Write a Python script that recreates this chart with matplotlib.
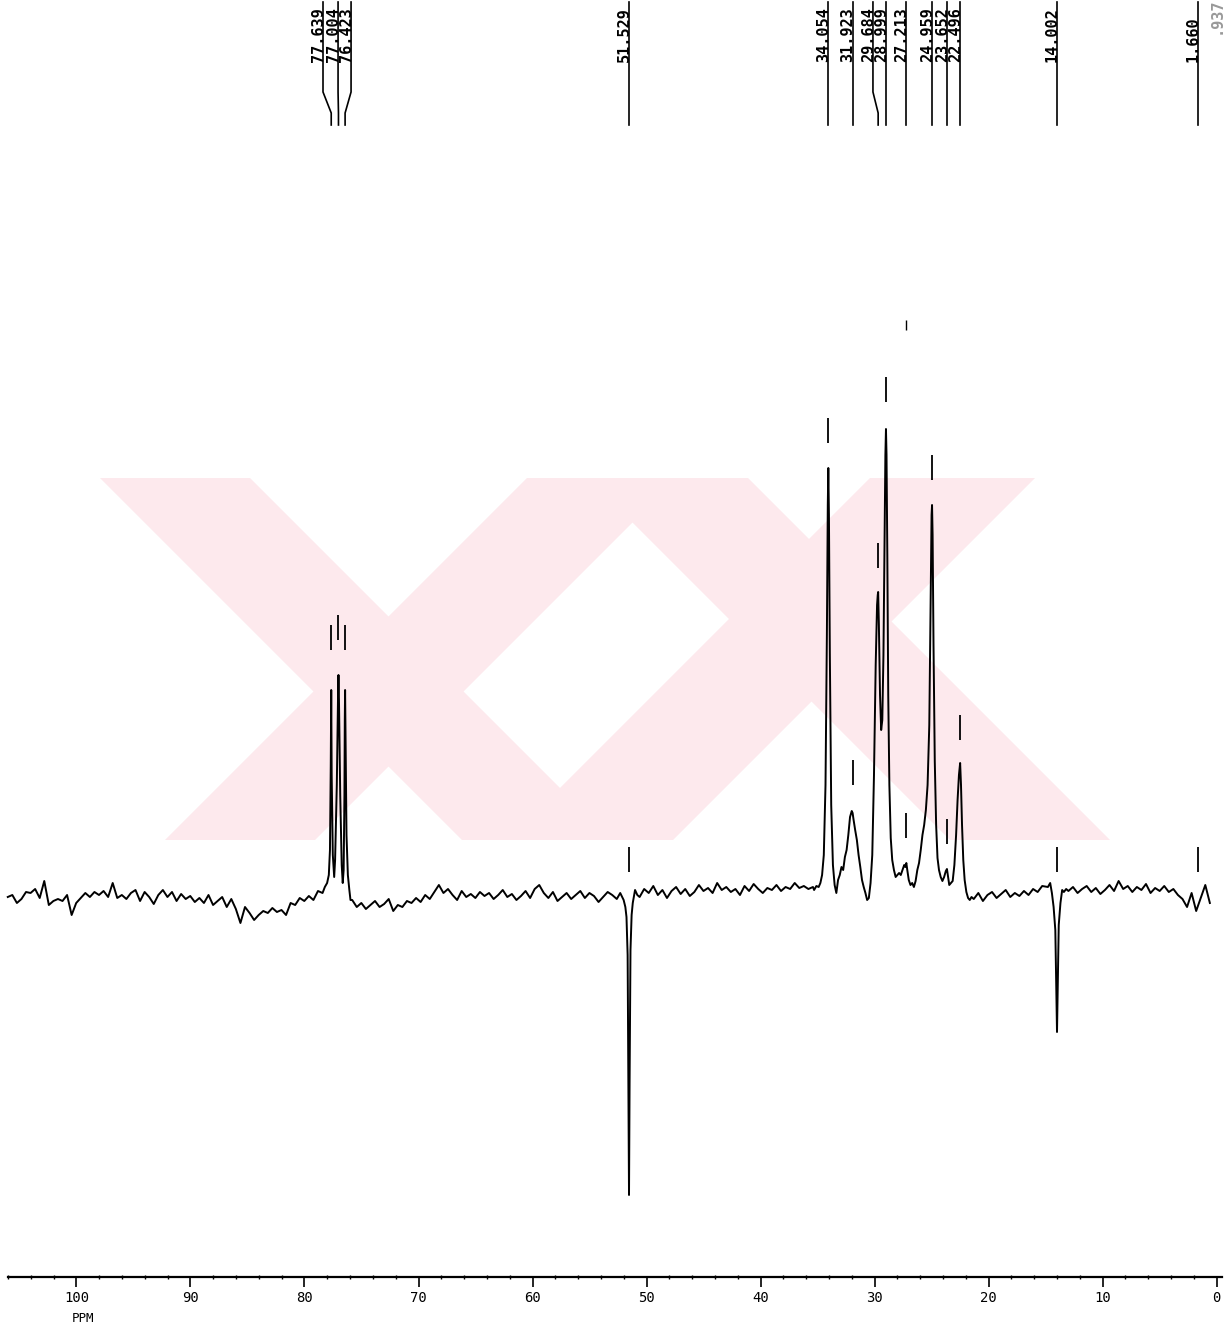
import numpy as np
import matplotlib
matplotlib.use("Agg")
from matplotlib import pyplot as plt
from matplotlib.patches import Polygon

plt.rcParams['font.family'] = ['DejaVu Sans Mono', 'DejaVu Sans']

# ---- trace: ppm vs intensity (baseline = 0) ----
STEP = 0.4  # ppm between baseline readings

base1_start = 106.0
base1 = [-2, 0, -8, -4, 3, 2, 6, -3, 14, -10,
         -6, -4, -6, 0, -20, -8, -3, 2, -2, 3,
         0, 4, -2, 12, -3, 0, -4, 2, 5, -6,
         3, -2, -9, 0, 5, -2, 3, -6, 1, -4,
         -1, -7, -3, -8, 0, -10, -6, -2, -12, -4,
         -14, -28, -12, -18, -25, -20, -16, -18, -13, -17,
         -15, -20, -8, -10, -3, -6, -1, -5, 4, 2]

# CDCl3 triplet
triplet = [(78.2, 8), (78.0, 12), (77.85, 20), (77.75, 45), (77.68, 130),
           (77.639, 205), (77.60, 120), (77.5, 40), (77.38, 18), (77.30, 35),
           (77.15, 110), (77.04, 200), (77.004, 220), (76.96, 195), (76.85, 100),
           (76.72, 30), (76.63, 12), (76.55, 25), (76.48, 100), (76.45, 175),
           (76.423, 205), (76.39, 165), (76.30, 60), (76.18, 20), (76.05, 5),
           (75.95, -5)]

base2_start = 75.8
base2 = [-5, -12, -8, -14, -10, -6, -12, -9, -4, -16,
         -10, -12, -6, -8, -3, -7, 0, -4, 3, 10,
         2, 6, 0, -5, 4, -2, 1, -3, 3, -1,
         2, -4, 0, 5, -2, 1, -5, -1, 4, -3,
         6, 10, 2, -3, 3, -6, -2, 2, -4, 0,
         4, -3, 2, -1, -7, -2, 3, 0, -4]

neg51 = [(52.3, 2), (52.0, -5), (51.85, -12), (51.75, -22), (51.65, -60),
         (51.58, -190), (51.529, -300), (51.48, -190), (51.40, -55), (51.3, -20),
         (51.2, -8), (51.0, 5), (50.8, 0)]

base3_start = 50.6
base3 = [-2, 6, 2, 9, 0, 5, -3, 4, 8, 1,
         6, -1, 3, 10, 4, 7, 2, 12, 5, 8,
         3, 6, 0, 9, 4, 11, 6, 2, 7, 5,
         10, 4, 8, 6, 12, 7, 9, 6, 8]

aliph = [(35.3, 5), (35.1, 9), (34.9, 8), (34.75, 12), (34.6, 20), (34.45, 40),
         (34.30, 110), (34.18, 260), (34.10, 390), (34.054, 427), (34.00, 380),
         (33.92, 240), (33.80, 90), (33.65, 30), (33.50, 10), (33.35, 2),
         (33.2, 15), (33.05, 20), (32.9, 28), (32.75, 25), (32.6, 38), (32.45, 45),
         (32.3, 60), (32.15, 78), (32.0, 84), (31.923, 82), (31.85, 76), (31.7, 65),
         (31.55, 55), (31.4, 40), (31.25, 28), (31.1, 15), (30.95, 8), (30.8, 2),
         (30.65, -5), (30.5, -3), (30.35, 12), (30.2, 40), (30.05, 120), (29.90, 230),
         (29.78, 290), (29.72, 300), (29.684, 303), (29.62, 270), (29.52, 200),
         (29.42, 165), (29.32, 175), (29.22, 240), (29.12, 360), (29.05, 440),
         (28.999, 466), (28.95, 440), (28.88, 340), (28.80, 200), (28.70, 110),
         (28.58, 57), (28.45, 35), (28.3, 25), (28.15, 18), (28.0, 20), (27.85, 22),
         (27.7, 20), (27.55, 25), (27.4, 30), (27.30, 28), (27.213, 32), (27.13, 25),
         (27.0, 15), (26.85, 10), (26.7, 12), (26.55, 8), (26.4, 14), (26.25, 25),
         (26.1, 32), (25.95, 45), (25.8, 60), (25.65, 70), (25.5, 85), (25.35, 110),
         (25.2, 170), (25.08, 300), (25.0, 380), (24.959, 390), (24.91, 360),
         (24.83, 250), (24.72, 134), (24.6, 70), (24.48, 37), (24.35, 25), (24.2, 18),
         (24.05, 14), (23.9, 18), (23.75, 24), (23.652, 26), (23.55, 18), (23.45, 10),
         (23.3, 12), (23.15, 14), (23.0, 30), (22.85, 60), (22.72, 95), (22.6, 120),
         (22.496, 132), (22.42, 110), (22.33, 70), (22.22, 35), (22.1, 15),
         (21.95, 3), (21.8, -3), (21.65, -5), (21.5, -2)]

base4_start = 21.3
base4 = [-4, 2, -6, 0, 3, -3, 1, 5, -2, 2, -1, 4, 0, 6, 3, 9]

neg14 = [(14.8, 8), (14.6, 12), (14.45, 2), (14.3, -12), (14.15, -35),
         (14.05, -100), (14.002, -137), (13.95, -100), (13.85, -30), (13.7, -8),
         (13.55, 5), (13.4, 3), (13.2, 6)]

base5_start = 13.0
base5 = [4, 8, 2, 6, 9, 3, 7, 1, 5, 10,
         4, 14, 6, 9, 3, 8, 5, 11, 2, 7,
         4, 9, 3, 6, 0, -4, -12, 2, -16, -3,
         10, -8]

# ---- peak picking ----
peak_labels = ["77.639", "77.004", "76.423", "51.529", "34.054", "31.923", "29.684",
               "28.999", "27.213", "24.959", "23.652", "22.496", "14.002", "1.660"]
peak_ppm = [77.639, 77.004, 76.423, 51.529, 34.054, 31.923, 29.684,
            28.999, 27.213, 24.959, 23.652, 22.496, 14.002, 1.660]
label_ppm = [78.36, 77.04, 75.90, 51.529, 34.054, 31.923, 30.14,
             28.999, 27.213, 24.959, 23.652, 22.496, 14.002, 1.660]
mark_low = [245, 255, 245, 23, 452, 110, 327, 493, 57, 415, 51, 155, 23, 23]
stray_mark = (27.213, 565)

# ---- layout of the scan (pixels) ----
W, H = 1226, 1327
X0_PX, PX_PER_PPM = 1216.7, 11.405
BASE_PY = 895

# watermark bands, pixel corners (top-left, top-right, bottom-right, bottom-left)
wm_bands = [[(100, 478), (250, 478), (612, 840), (462, 840)],
            [(527, 478), (677, 478), (315, 840), (165, 840)],
            [(588, 478), (748, 478), (1110, 840), (950, 840)],
            [(870, 478), (1035, 478), (673, 840), (508, 840)]]


def ppm_at(px):
    return (X0_PX - px) / PX_PER_PPM


def val_at(py):
    return BASE_PY - py


def stretch(start, vals):
    p = start - STEP * np.arange(len(vals))
    return np.column_stack([p, vals])


trace = np.vstack([stretch(base1_start, base1), np.array(triplet),
                   stretch(base2_start, base2), np.array(neg51),
                   stretch(base3_start, base3), np.array(aliph),
                   stretch(base4_start, base4), np.array(neg14),
                   stretch(base5_start, base5)])

fig = plt.figure(figsize=(W / 100, H / 100), dpi=100)

for band in wm_bands:
    pts = [(x / W, 1 - y / H) for x, y in band]
    fig.patches.append(Polygon(pts, closed=True, transform=fig.transFigure,
                               facecolor='#fde9ed', edgecolor='none', zorder=-5))

ax = fig.add_axes([0, 0, 1, 1])
ax.set_zorder(2)
ax.patch.set_visible(False)
ax.set_xlim(ppm_at(0), ppm_at(W))
ax.set_ylim(val_at(H), val_at(0))
ax.axis('off')

ax.plot(trace[:, 0], trace[:, 1], color='black', lw=1.4, zorder=3)

# peak pick ticks
ax.vlines(peak_ppm, mark_low, np.array(mark_low) + 25, color='black', lw=1.3)
ax.vlines(stray_mark[0], stray_mark[1], stray_mark[1] + 10, color='black', lw=1.0)

# labels with leader lines
for lab, pk, lp in zip(peak_labels, peak_ppm, label_ppm):
    ax.text(lp, val_at(62), lab, rotation=90, rotation_mode='anchor',
            ha='left', va='baseline', fontsize=11, fontweight='bold')
    ax.plot([lp, lp, pk, pk], [val_at(2), val_at(92), val_at(113), val_at(125)],
            color='black', lw=1.2)
ax.text(ppm_at(1221), val_at(34), ".937", rotation=90, rotation_mode='anchor',
        ha='left', va='baseline', fontsize=11, fontweight='bold', color='#999999')

# ppm scale
sax = fig.add_axes([8 / W, 1 - 1277 / H, (1222 - 8) / W, 0.0001])
sax.set_zorder(2)
sax.set_xlim(ppm_at(8), ppm_at(1222))
sax.patch.set_visible(False)
for s in ['top', 'left', 'right']:
    sax.spines[s].set_visible(False)
sax.spines['bottom'].set_linewidth(1.6)
sax.set_yticks([])
sax.set_xticks(np.arange(0, 101, 10))
sax.set_xticks(np.arange(0, 107, 2), minor=True)
sax.tick_params(axis='x', which='major', length=7, width=1.2, pad=3,
                labelsize=10, labelfontfamily='DejaVu Sans Mono')
sax.tick_params(axis='x', which='minor', length=3.5, width=1.0, direction='inout')
fig.text(83 / W, 1 - 1318 / H, "PPM", ha='center', va='center', fontsize=9)

fig.savefig("out.png", dpi=100)
